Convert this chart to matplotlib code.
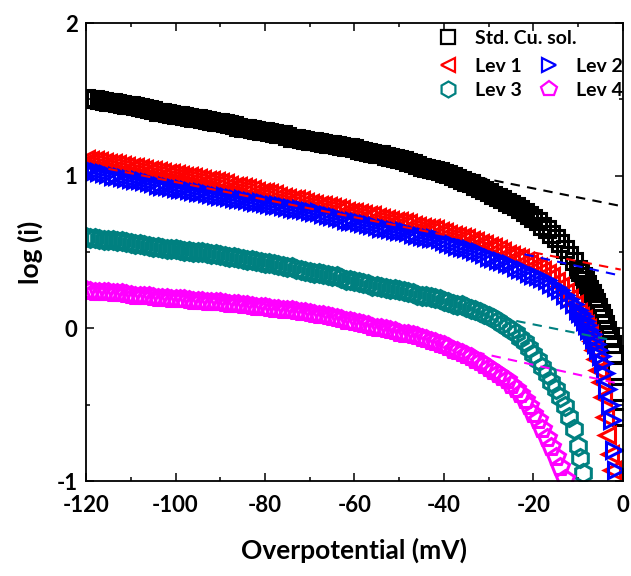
import matplotlib
matplotlib.use("Agg")
import matplotlib.pyplot as plt
from matplotlib.lines import Line2D
from matplotlib.ticker import MultipleLocator

plt.rcParams['font.family'] = ['Lato', 'DejaVu Sans']
plt.rcParams['font.weight'] = 'bold'
plt.rcParams['axes.unicode_minus'] = False

# overpotential (mV)
eta = [-120, -119, -118, -117, -116, -115, -114, -113, -112, -111,
       -110, -109, -108, -107, -106, -105, -104, -103, -102, -101,
       -100, -99, -98, -97, -96, -95, -94, -93, -92, -91,
       -90, -89, -88, -87, -86, -85, -84, -83, -82, -81,
       -80, -79, -78, -77, -76, -75, -74, -73, -72, -71,
       -70, -69, -68, -67, -66, -65, -64, -63, -62, -61,
       -60, -59, -58, -57, -56, -55, -54, -53, -52, -51,
       -50, -49, -48, -47, -46, -45, -44, -43, -42, -41,
       -40, -39, -38, -37, -36, -35, -34, -33, -32, -31,
       -30, -29, -28, -27, -26, -25,
       -24, -23, -22, -21, -20, -19, -18, -17, -16, -15, -14, -13, -12, -11, -10,
       -9.5, -9, -8.5, -8, -7.5, -7, -6.5, -6, -5.5, -5,
       -4.5, -4, -3.5, -3, -2.5, -2, -1.5, -1, -0.5]

# log(i) of each bath
std = [1.51, 1.505, 1.50, 1.495, 1.49, 1.485, 1.48, 1.475, 1.47, 1.465,
       1.46, 1.455, 1.45, 1.445, 1.44, 1.43, 1.42, 1.415, 1.41, 1.405,
       1.40, 1.395, 1.39, 1.385, 1.38, 1.375, 1.37, 1.365, 1.36, 1.355,
       1.35, 1.345, 1.34, 1.33, 1.32, 1.315, 1.31, 1.305, 1.30, 1.295,
       1.29, 1.285, 1.28, 1.275, 1.27, 1.26, 1.25, 1.245, 1.24, 1.235,
       1.23, 1.225, 1.22, 1.215, 1.21, 1.205, 1.20, 1.195, 1.19, 1.185,
       1.18, 1.17, 1.16, 1.155, 1.15, 1.145, 1.14, 1.13, 1.12, 1.115,
       1.11, 1.10, 1.09, 1.08, 1.07, 1.06, 1.05, 1.045, 1.04, 1.03,
       1.02, 1.01, 1.00, 0.985, 0.97, 0.96, 0.95, 0.935, 0.92, 0.905,
       0.89, 0.875, 0.86, 0.845, 0.83, 0.815,
       0.80, 0.78, 0.76, 0.74, 0.72, 0.70, 0.67, 0.65, 0.62, 0.59, 0.56, 0.52, 0.48, 0.44, 0.39,
       0.37, 0.34, 0.32, 0.29, 0.26, 0.23, 0.20, 0.17, 0.14, 0.10,
       0.07, 0.03, -0.01, -0.05, -0.10, -0.17, -0.28, -0.42, -0.58]

lev1 = [1.11, 1.105, 1.10, 1.095, 1.09, 1.085, 1.08, 1.075, 1.07, 1.065,
        1.06, 1.055, 1.05, 1.045, 1.04, 1.035, 1.03, 1.025, 1.02, 1.015,
        1.01, 1.005, 1.00, 0.995, 0.99, 0.985, 0.98, 0.975, 0.97, 0.965,
        0.96, 0.95, 0.94, 0.935, 0.93, 0.925, 0.92, 0.91, 0.90, 0.895,
        0.89, 0.885, 0.88, 0.87, 0.86, 0.855, 0.85, 0.845, 0.84, 0.83,
        0.82, 0.815, 0.81, 0.805, 0.80, 0.795, 0.79, 0.78, 0.77, 0.765,
        0.76, 0.755, 0.75, 0.745, 0.74, 0.73, 0.72, 0.715, 0.71, 0.705,
        0.70, 0.695, 0.69, 0.68, 0.67, 0.665, 0.66, 0.655, 0.65, 0.64,
        0.63, 0.62, 0.61, 0.605, 0.60, 0.59, 0.58, 0.57, 0.56, 0.55,
        0.54, 0.53, 0.52, 0.505, 0.49, 0.48,
        0.47, 0.46, 0.44, 0.43, 0.41, 0.40, 0.38, 0.36, 0.34, 0.31, 0.28, 0.24, 0.20, 0.16, 0.11,
        0.08, 0.06, 0.03, 0.00, -0.04, -0.08, -0.14, -0.20, -0.27, -0.35,
        -0.45, -0.58, -0.70, -0.82, -0.93]

lev2 = [1.04, 1.035, 1.03, 1.025, 1.02, 1.01, 1.00, 0.995, 0.99, 0.985,
        0.98, 0.975, 0.97, 0.965, 0.96, 0.95, 0.94, 0.935, 0.93, 0.925,
        0.92, 0.915, 0.91, 0.905, 0.90, 0.895, 0.89, 0.885, 0.88, 0.875,
        0.87, 0.865, 0.86, 0.855, 0.85, 0.845, 0.84, 0.835, 0.83, 0.825,
        0.82, 0.815, 0.81, 0.805, 0.80, 0.795, 0.79, 0.785, 0.78, 0.775,
        0.77, 0.765, 0.76, 0.75, 0.74, 0.735, 0.73, 0.72, 0.71, 0.705,
        0.70, 0.695, 0.69, 0.685, 0.68, 0.67, 0.66, 0.655, 0.65, 0.645,
        0.64, 0.635, 0.63, 0.62, 0.61, 0.605, 0.60, 0.595, 0.59, 0.585,
        0.57, 0.56, 0.55, 0.54, 0.53, 0.525, 0.52, 0.51, 0.50, 0.49,
        0.47, 0.46, 0.45, 0.44, 0.43, 0.42,
        0.40, 0.39, 0.38, 0.36, 0.35, 0.34, 0.33, 0.32, 0.29, 0.27, 0.25, 0.22, 0.19, 0.16, 0.12,
        0.10, 0.08, 0.05, 0.02, -0.01, -0.04, -0.07, -0.10, -0.14, -0.18,
        -0.23, -0.29, -0.40, -0.50, -0.60, -0.80, -0.93]

lev3 = [0.60, 0.595, 0.59, 0.585, 0.58, 0.58, 0.58, 0.575, 0.57, 0.565,
        0.56, 0.555, 0.55, 0.545, 0.54, 0.535, 0.53, 0.525, 0.52, 0.52,
        0.52, 0.515, 0.51, 0.505, 0.50, 0.50, 0.50, 0.495, 0.49, 0.485,
        0.48, 0.475, 0.47, 0.465, 0.46, 0.455, 0.45, 0.445, 0.44, 0.435,
        0.43, 0.425, 0.42, 0.415, 0.41, 0.405, 0.40, 0.39, 0.38, 0.375,
        0.37, 0.365, 0.36, 0.355, 0.35, 0.345, 0.34, 0.33, 0.32, 0.315,
        0.31, 0.305, 0.30, 0.29, 0.28, 0.275, 0.27, 0.265, 0.26, 0.255,
        0.25, 0.245, 0.24, 0.23, 0.22, 0.215, 0.21, 0.205, 0.20, 0.19,
        0.18, 0.17, 0.16, 0.155, 0.15, 0.14, 0.13, 0.12, 0.11, 0.095,
        0.08, 0.065, 0.05, 0.03, 0.01, -0.01,
        -0.03, -0.06, -0.09, -0.13, -0.17, -0.21, -0.25, -0.30, -0.35, -0.40, -0.45, -0.51, -0.58, -0.66, -0.77,
        -0.85, -0.95]

lev4 = [0.25, 0.245, 0.24, 0.24, 0.24, 0.235, 0.23, 0.23, 0.23, 0.225,
        0.22, 0.215, 0.21, 0.21, 0.21, 0.205, 0.20, 0.20, 0.20, 0.195,
        0.19, 0.19, 0.19, 0.185, 0.18, 0.18, 0.18, 0.175, 0.17, 0.17,
        0.17, 0.165, 0.16, 0.16, 0.16, 0.155, 0.15, 0.145, 0.14, 0.14,
        0.14, 0.135, 0.13, 0.125, 0.12, 0.12, 0.12, 0.115, 0.11, 0.105,
        0.10, 0.095, 0.09, 0.085, 0.08, 0.075, 0.07, 0.06, 0.05, 0.045,
        0.04, 0.035, 0.03, 0.02, 0.01, 0.005, 0.00, -0.005, -0.01, -0.02,
        -0.03, -0.035, -0.04, -0.045, -0.05, -0.06, -0.07, -0.08, -0.09, -0.10,
        -0.11, -0.125, -0.14, -0.15, -0.16, -0.175, -0.19, -0.205, -0.22, -0.24,
        -0.26, -0.28, -0.30, -0.32, -0.34, -0.37,
        -0.40, -0.43, -0.47, -0.51, -0.56, -0.60, -0.66, -0.72, -0.78, -0.84, -0.91, -0.99]

# Tafel fits (end points)
fit_std_x, fit_std_y = [-32.4, -1.1], [0.99, 0.805]
fit_l1_x, fit_l1_y = [-115.0, -0.5], [1.045, 0.385]
fit_l2_x, fit_l2_y = [-22.0, -0.5], [0.485, 0.345]
fit_l3_x, fit_l3_y = [-27.5, -2.0], [0.07, -0.08]
fit_l4_x, fit_l4_y = [-33.0, -0.5], [-0.155, -0.365]

series = [
    (std, 's', 12, 'black', 'Std. Cu. sol.'),
    (lev1, '<', 12, '#ff0000', 'Lev 1'),
    (lev2, '>', 12, '#0000ff', 'Lev 2'),
    (lev3, 'h', 13, '#008080', 'Lev 3'),
    (lev4, 'p', 13, '#ff00ff', 'Lev 4'),
]
fits = [
    (fit_std_x, fit_std_y, 'black'),
    (fit_l1_x, fit_l1_y, '#ff0000'),
    (fit_l2_x, fit_l2_y, '#0000ff'),
    (fit_l3_x, fit_l3_y, '#008080'),
    (fit_l4_x, fit_l4_y, '#ff00ff'),
]

fig = plt.figure(figsize=(6.31, 5.76), dpi=100)
ax = fig.add_axes([0.1363, 0.1649, 0.8510, 0.7951])

handles = {}
for y, m, ms, c, lab in series:
    ax.plot(eta[:len(y)], y, linestyle='none', marker=m, markersize=ms,
            markerfacecolor='none', markeredgecolor=c, markeredgewidth=2.2)
    handles[lab] = Line2D([], [], linestyle='none', marker=m, markersize=ms - 1.5,
                          markerfacecolor='none', markeredgecolor=c,
                          markeredgewidth=1.6)

for fx, fy, c in fits:
    ax.plot(fx, fy, color=c, lw=1.5, linestyle=(0, (4.5, 3.5)), zorder=5)

ax.set_xlim(-120, 0)
ax.set_ylim(-1, 2)
ax.xaxis.set_major_locator(MultipleLocator(20))
ax.xaxis.set_minor_locator(MultipleLocator(10))
ax.yaxis.set_major_locator(MultipleLocator(1))
ax.yaxis.set_minor_locator(MultipleLocator(0.5))
ax.tick_params(which='both', direction='in', top=True, right=True, width=1.1)
ax.tick_params(which='major', length=6, labelsize=16)
ax.tick_params(which='minor', length=3)
ax.tick_params(axis='x', pad=10)
ax.tick_params(axis='y', pad=6)
for s in ax.spines.values():
    s.set_linewidth(1.3)

ax.set_xlabel('Overpotential (mV)', fontsize=19, fontweight='bold', labelpad=16)
ax.set_ylabel('log (i)', fontsize=19, fontweight='bold', labelpad=10)

leg_kw = dict(bbox_transform=fig.transFigure, frameon=False, fontsize=14,
              handlelength=1.0, handletextpad=0.9, borderpad=0, borderaxespad=0,
              loc='upper left')
leg1 = ax.legend([handles['Std. Cu. sol.']], ['Std. Cu. sol.'],
                 bbox_to_anchor=(438 / 631, 1 - 30 / 576), **leg_kw)
ax.add_artist(leg1)
ax.legend([handles['Lev 1'], handles['Lev 3'], handles['Lev 2'], handles['Lev 4']],
          ['Lev 1', 'Lev 3', 'Lev 2', 'Lev 4'], ncol=2,
          bbox_to_anchor=(438 / 631, 1 - 58 / 576),
          labelspacing=0.35, columnspacing=0.9, **leg_kw)

fig.savefig('out.png', dpi=100)
